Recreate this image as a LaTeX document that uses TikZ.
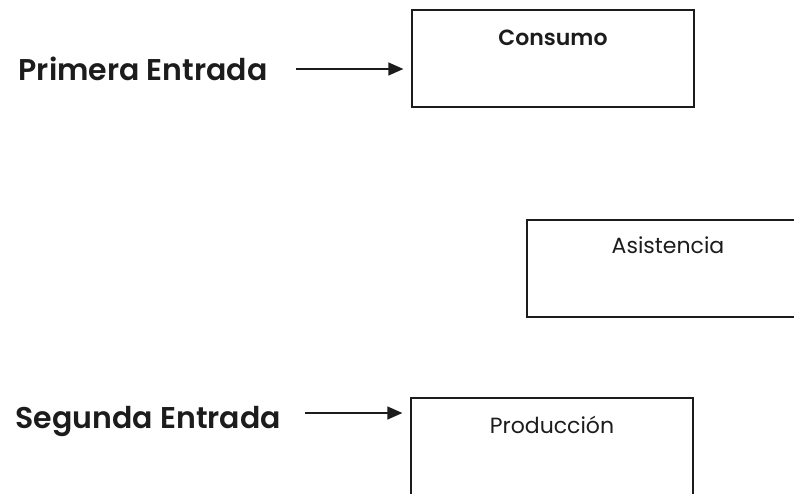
\documentclass[tikz,border=0pt]{standalone}
\usepackage{fontspec}
\setmainfont{Poppins}[BoldFont={* SemiBold}]
\usepackage{tikz}
\usetikzlibrary{positioning,calc,arrows.meta}

\definecolor{tinta}{HTML}{1C1C1C}

\tikzset{
  caja/.style={draw=tinta, line width=1.3pt, minimum width=282pt, minimum height=97pt, inner sep=0pt},
  titulo/.style={anchor=base, inner sep=0pt, text=tinta, font=\fontsize{22}{26}\selectfont},
  entrada/.style={anchor=base west, inner sep=0pt, text=tinta, font=\bfseries\fontsize{30}{34}\selectfont},
}

\begin{document}
\begin{tikzpicture}[x=1pt,y=-1pt,>={Triangle[length=15pt,width=13pt]},line width=1.3pt]
    \clip (0,0) rectangle (794,494);
    \fill[white] (0,0) rectangle (794,494);
    \node[caja] (consumo)    at (553,58.5)  {};
    \node[caja] (asistencia) at (668,268.5) {};
    \node[caja] (produccion) at (552,446.5) {};
    \node[titulo, font=\bfseries\fontsize{22}{26}\selectfont] (consumo-txt) at ([yshift=-36pt]consumo.north) {Consumo};
    \node[titulo] (asistencia-txt) at ([yshift=-34pt]asistencia.north) {Asistencia};
    \node[titulo] (produccion-txt) at ([yshift=-36pt]produccion.north) {Producción};
    \node[entrada] (primera) at (18,81)  {Primera Entrada};
    \node[entrada] (segunda) at (15,428) {Segunda Entrada};
    \draw[->, tinta] ($(primera.base east)+(28,-12)$) -- ($(primera.base east -| consumo.west)+(-8,-12)$);
    \draw[->, tinta] ($(segunda.base east)+(24,-15)$) -- ($(segunda.base east -| produccion.west)+(-8,-15)$);
  \end{tikzpicture}
\end{document}
